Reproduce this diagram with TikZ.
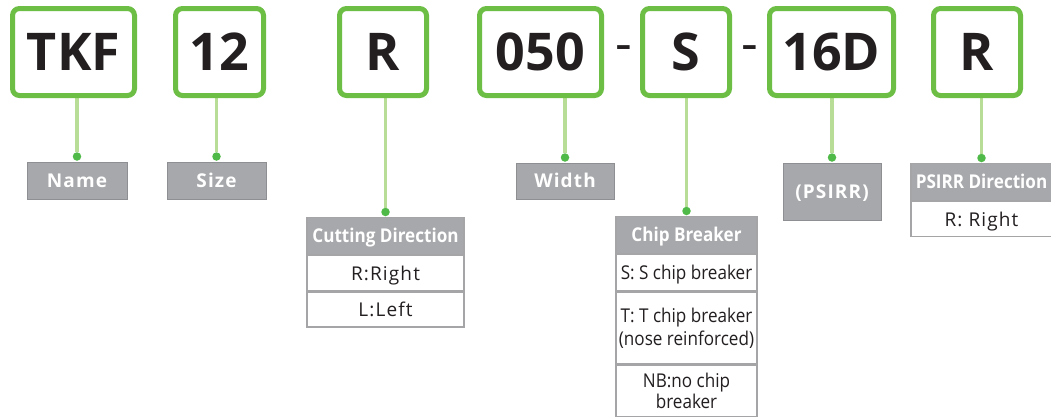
\documentclass[tikz,border=0pt]{standalone}
\usepackage{fontspec}
\setmainfont{Open Sans}
\newfontfamily\condfont[FakeStretch=0.9]{Open Sans}
\newfontfamily\spacedfont[LetterSpace=6]{Open Sans}
\usetikzlibrary{positioning,backgrounds}

\definecolor{codeGreen}{RGB}{108,190,69}
\definecolor{linkGreen}{RGB}{183,221,150}
\definecolor{dotGreen}{RGB}{80,186,72}
\definecolor{tagGray}{RGB}{167,168,171}
\definecolor{tagEdge}{RGB}{142,143,146}
\definecolor{cellEdge}{RGB}{165,165,168}
\definecolor{inkBlack}{RGB}{35,31,32}

\tikzset{
  codebox/.style={draw=codeGreen,line width=5pt,rounded corners=7pt,fill=white,
    minimum height=87pt,text=inkBlack,font=\fontsize{52}{52}\selectfont\bfseries},
  tagbox/.style={draw=tagEdge,line width=1pt,fill=tagGray,text=white,inner sep=0pt,
    font=\spacedfont\fontsize{19}{19}\selectfont\bfseries,text height=13.7pt,text depth=0pt},
  cellhead/.style={draw=cellEdge,line width=1.2pt,fill=tagGray,text=white,inner sep=0pt,
    minimum height=37pt,font=\condfont\fontsize{19}{19}\selectfont\bfseries,
    text height=13.7pt,text depth=0pt},
  cell/.style={draw=cellEdge,line width=1.2pt,fill=white,text=inkBlack,inner sep=0pt,align=center},
  cellone/.style={cell,text height=13.7pt,text depth=0pt},
  linkline/.style={draw=linkGreen,line width=3.5pt},
  linkdot/.style={circle,fill=dotGreen,inner sep=0pt,minimum size=8.5pt},
}
\newcommand{\codebox}[4]{%
  \node[codebox,minimum width=#3] (#1) at (#2,52) {#4};
}

\begin{document}
\begin{tikzpicture}[x=1pt,y=-1pt]
  \useasboundingbox (0,0) rectangle (1051,416);
  % --- Code letters ---
  \codebox{tkf}{73.5}{122pt}{TKF}
  \codebox{sz}{219.5}{88pt}{12}
  \codebox{dir}{383}{87pt}{R}
  \codebox{wid}{540.5}{122pt}{050}
  \codebox{brk}{686}{87pt}{S}
  \codebox{psr}{831.5}{124pt}{16D}
  \codebox{psd}{977}{87pt}{R}
  \node[anchor=base,text=inkBlack,font=\fontsize{52}{52}\selectfont] (hyA) at (623.5,61.5) {-};
  \node[anchor=base,text=inkBlack,font=\fontsize{52}{52}\selectfont] (hyB) at (750,61.5) {-};

  % --- Simple tags ---
  \node[tagbox,minimum width=100pt,minimum height=37pt] (name) at (77,180.5) {Name};
  \node[tagbox,minimum width=99pt,minimum height=37pt] (size) at (216.5,180.5) {Size};
  \node[tagbox,minimum width=98pt,minimum height=36pt] (width) at (565,181) {Width};
  \node[tagbox,minimum width=98pt,minimum height=57pt] (psirr) at (832,191.5) {(PSIRR)};

  % --- Cutting direction ---
  \node[cellhead,minimum width=157pt,anchor=north] (cuthead) at (385.5,217) {Cutting Direction};
  \node[cellone,minimum width=157pt,minimum height=35pt,below=0pt of cuthead,
    font=\spacedfont\fontsize{19}{19}\selectfont] (cutR) {R:Right};
  \node[cellone,minimum width=157pt,minimum height=35pt,below=0pt of cutR,
    font=\spacedfont\fontsize{19}{19}\selectfont] (cutL) {L:Left};

  % --- Chip breaker ---
  \node[cellhead,minimum width=141pt,anchor=north] (chiphead) at (686.5,216) {Chip Breaker};
  \node[cellone,minimum width=141pt,minimum height=36pt,below=0pt of chiphead,
    font=\condfont\fontsize{19}{23}\selectfont] (chipS) {S: S chip breaker};
  \node[cell,minimum width=141pt,minimum height=72pt,below=0pt of chipS,
    font=\condfont\fontsize{19}{23}\selectfont] (chipT) {T: T chip breaker\\(nose reinforced)};
  \node[cell,minimum width=141pt,minimum height=51pt,below=0pt of chipT,
    font=\condfont\fontsize{19}{21}\selectfont] (chipNB) {NB:no chip\\breaker};

  % --- PSIRR direction ---
  \node[cellhead,minimum width=141pt,anchor=north] (psdhead) at (981.5,163) {PSIRR Direction};
  \node[cellone,minimum width=141pt,minimum height=35pt,below=0pt of psdhead,
    font=\spacedfont\fontsize{19}{19}\selectfont] (psdR) {R: Right};

  % --- Dots and connectors ---
  \foreach \t/\d in {name/dName,size/dSize,width/dWidth,psirr/dPsirr,cuthead/dCut,chiphead/dChip,psdhead/dPsd}
    \node[linkdot] (\d) at ([yshift=5pt]\t.north) {};
  \begin{scope}[on background layer]
    \foreach \b/\d in {tkf/dName,sz/dSize,dir/dCut,wid/dWidth,brk/dChip,psr/dPsirr,psd/dPsd}
      \draw[linkline] (\b.south -| \d) -- (\d);
  \end{scope}
\end{tikzpicture}
\end{document}
